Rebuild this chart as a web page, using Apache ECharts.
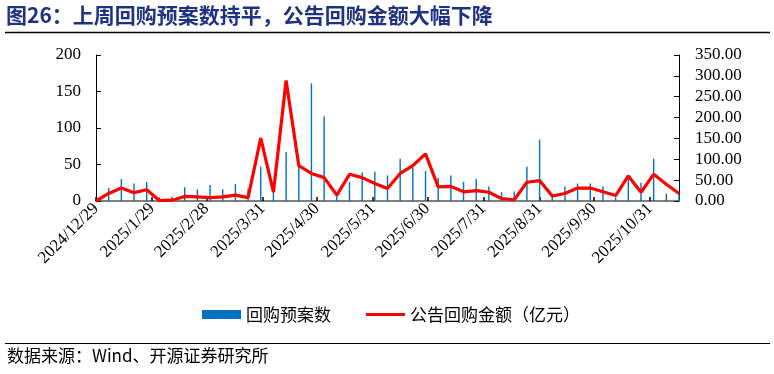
<!DOCTYPE html>
<html>
<head>
<meta charset="utf-8">
<script src="https://cdn.jsdelivr.net/npm/echarts@6/dist/echarts.min.js"></script>
<style>
html,body{margin:0;padding:0;background:#fff;}
#main{width:774px;height:374px;}
</style>
</head>
<body>
<div id="main"></div>
<script>
// Weekly dates
var dates = [
 '2024/12/29','2025/1/5','2025/1/12','2025/1/19','2025/1/26','2025/2/2','2025/2/9','2025/2/16','2025/2/23',
 '2025/3/2','2025/3/9','2025/3/16','2025/3/23','2025/3/30','2025/4/6','2025/4/13','2025/4/20','2025/4/27',
 '2025/5/4','2025/5/11','2025/5/18','2025/5/25','2025/6/1','2025/6/8','2025/6/15','2025/6/22','2025/6/29',
 '2025/7/6','2025/7/13','2025/7/20','2025/7/27','2025/8/3','2025/8/10','2025/8/17','2025/8/24','2025/8/31',
 '2025/9/7','2025/9/14','2025/9/21','2025/9/28','2025/10/5','2025/10/12','2025/10/19','2025/10/26',
 '2025/11/2','2025/11/9','2025/11/16'
];
// 回购预案数
var planCount = [
 0,18,30,24,26,5,6,19,16,
 22,16,23,17,47,12,67,48,161,
 116,7,26,39,40,35,58,46,41,
 32,35,26,30,20,12,13,47,84,
 10,20,24,24,20,5,31,25,
 58,10,10
];
// 公告回购金额（亿元）
var amount = [
 0,18,31,20,27,1,2,11,10,
 8,10,14,8,151,21,289,85,66,
 56,14,64,56,42,30,66,85,113,
 34,35,22,25,21,6,3,45,49,
 12,18,31,31,22,13,60,21,
 64,40,18
];
// x-axis tick label dates
var tickDates = ['2024/12/29','2025/1/29','2025/2/28','2025/3/31','2025/4/30','2025/5/31','2025/6/30','2025/7/31','2025/8/31','2025/9/30','2025/10/31'];
var axisStart = '2024/12/29';
var axisEnd = '2025/11/16';
var leftTicks = {min: 0, max: 200, interval: 50};
var rightTicks = {min: 0, max: 350, interval: 50};

var DAY = 86400000;
function dayIdx(s){ var p = s.split('/'); return Math.round(Date.UTC(+p[0], +p[1]-1, +p[2]) / DAY); }

var barData = dates.map(function(d,i){ return [dayIdx(d), planCount[i]]; });
var lineData = dates.map(function(d,i){ return [dayIdx(d), amount[i]]; });
var tickVals = tickDates.map(dayIdx);

var chart = echarts.init(document.getElementById('main'), null, {renderer:'canvas'});
var serif = '"Liberation Serif","DejaVu Serif",serif';
var cjk = '"Noto Sans CJK SC","Noto Sans",sans-serif';
chart.setOption({
  animation: false,
  backgroundColor: '#fff',
  grid: {left: 96, right: 95, top: 55, bottom: 173, containLabel: false},
  graphic: [
    {type:'text', left: 6, top: 5, style:{text:'图26：上周回购预案数持平，公告回购金额大幅下降', fill:'#1E3283', font:'bold 21px ' + cjk}},
    {type:'line', shape:{x1:5, y1:32.5, x2:770, y2:32.5}, style:{stroke:'#000', lineWidth:1.5}},
    {type:'line', shape:{x1:5, y1:343.5, x2:770, y2:343.5}, style:{stroke:'#000', lineWidth:1.2}},
    {type:'text', left: 7, top: 347, style:{text:'数据来源：Wind、开源证券研究所', fill:'#000', font:'17px ' + cjk}}
  ],
  legend: {
    left: 197, top: 301,
    itemWidth: 39, itemHeight: 9, itemGap: 35,
    textStyle: {fontFamily: cjk, fontSize: 17, color: '#000'},
    data: [
      {name:'回购预案数', icon:'rect'},
      {name:'公告回购金额（亿元）', icon:'path://M0,0H39V3.2H0Z'}
    ]
  },
  xAxis: {
    type: 'value',
    min: dayIdx(axisStart), max: dayIdx(axisEnd),
    axisLine: {show: true, lineStyle: {color: '#808080', width: 2}},
    axisTick: {show: true, inside: true, length: 4, customValues: tickVals, lineStyle:{color:'#000', width: 1.5}},
    axisLabel: {
      customValues: tickVals,
      rotate: 45, margin: 5,
      fontFamily: serif, fontSize: 17, color: '#000',
      formatter: function(v){ var d = new Date(v * DAY); return d.getUTCFullYear() + '/' + (d.getUTCMonth()+1) + '/' + d.getUTCDate(); }
    },
    splitLine: {show: false}
  },
  yAxis: [
    {
      type: 'value', min: leftTicks.min, max: leftTicks.max, interval: leftTicks.interval,
      axisLine: {show: true, lineStyle: {color: '#000', width: 1}},
      axisTick: {show: true, inside: true, length: 5, lineStyle: {color:'#000'}},
      axisLabel: {margin: 15, fontFamily: serif, fontSize: 17, color: '#000'},
      splitLine: {show: false}
    },
    {
      type: 'value', min: rightTicks.min, max: rightTicks.max, interval: rightTicks.interval,
      position: 'right',
      axisLine: {show: true, lineStyle: {color: '#000', width: 1}},
      axisTick: {show: true, inside: true, length: 5, lineStyle: {color:'#000'}},
      axisLabel: {margin: 16, fontFamily: serif, fontSize: 17, color: '#000',
        formatter: function(v){ return v.toFixed(2); }},
      splitLine: {show: false}
    }
  ],
  series: [
    {
      name: '回购预案数', type: 'bar', yAxisIndex: 0,
      data: barData, barWidth: 1.4,
      itemStyle: {color: '#0070C0'}
    },
    {
      name: '公告回购金额（亿元）', type: 'line', yAxisIndex: 1,
      data: lineData, symbol: 'none',
      lineStyle: {color: '#FF0000', width: 3.2},
      itemStyle: {color: '#FF0000'}
    }
  ]
});
</script>
</body>
</html>
